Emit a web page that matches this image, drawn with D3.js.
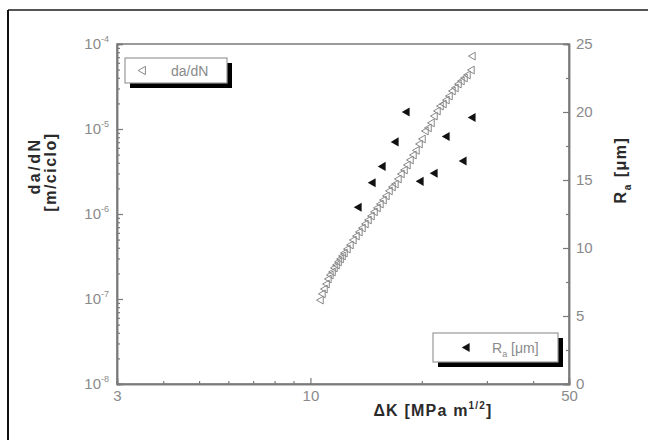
<!DOCTYPE html>
<html>
<head>
<meta charset="utf-8">
<script src="https://cdn.jsdelivr.net/npm/d3@7"></script>
<style>
  body { margin: 0; background: #fff; }
  text { font-family: "Liberation Sans", Arial, sans-serif; }
</style>
</head>
<body>
<div id="chart"></div>
<script>
const svgWidth = 648;
const svgHeight = 440;

const margin = { top: 44, right: 79, bottom: 56, left: 117 };
const width = svgWidth - margin.left - margin.right;
const height = svgHeight - margin.top - margin.bottom;

// da/dN series (open triangles)
const dkCrack = [10.68, 10.81, 10.95, 11.09, 11.22, 11.36, 11.51, 11.65, 11.80, 11.95,
    12.10, 12.25, 12.40, 12.63, 12.87, 13.11, 13.36, 13.61, 13.87, 14.13,
    14.40, 14.67, 14.95, 15.23, 15.51, 15.81, 16.10, 16.41, 16.72, 17.03,
    17.35, 17.68, 18.02, 18.35, 18.70, 19.05, 19.41, 19.78, 20.15, 20.53,
    20.92, 21.31, 21.71, 22.12, 22.54, 22.96, 23.39, 23.84, 24.28, 24.74,
    25.21, 25.68, 26.17, 26.66, 27.33, 27.50];
const dadn = [9.7e-8, 1.15e-7, 1.31e-7, 1.50e-7, 1.72e-7, 1.92e-7, 2.08e-7, 2.32e-7, 2.51e-7, 2.73e-7,
    2.96e-7, 3.21e-7, 3.48e-7, 3.87e-7, 4.32e-7, 4.94e-7, 5.51e-7, 6.14e-7, 6.84e-7, 7.63e-7,
    8.50e-7, 9.47e-7, 1.06e-6, 1.18e-6, 1.31e-6, 1.46e-6, 1.63e-6, 1.87e-6, 2.08e-6, 2.25e-6,
    2.58e-6, 2.96e-6, 3.29e-6, 3.77e-6, 4.32e-6, 4.94e-6, 5.60e-6, 6.66e-6, 7.63e-6, 9.47e-6,
    1.03e-5, 1.18e-5, 1.42e-5, 1.63e-5, 1.86e-5, 1.97e-5, 2.19e-5, 2.44e-5, 2.80e-5, 3.04e-5,
    3.38e-5, 3.67e-5, 3.98e-5, 4.32e-5, 4.94e-5, 7.2e-5];

// roughness series (filled triangles)
const dkRough = [13.53, 14.76, 15.71, 17.03, 18.24, 19.90, 21.71, 23.40, 26.0, 27.5];
const ra = [13.0, 14.8, 16.0, 17.8, 20.0, 14.9, 15.5, 18.2, 16.4, 19.6];

const xTicks = [3, 10, 50];
const xMinor = [4, 5, 6, 7, 8, 9, 20, 30, 40];
const yExp = [-8, -7, -6, -5, -4];
const raTicks = [0, 5, 10, 15, 20, 25];

const gray = "#7a7a7a";
const labelGray = "#8a8a8a";

const svg = d3.select("#chart").append("svg")
    .attr("width", svgWidth)
    .attr("height", svgHeight);

// outer frame (cropped)
svg.append("line").attr("x1", 8).attr("x2", 648).attr("y1", 10).attr("y2", 10)
    .attr("stroke", "#555").attr("stroke-width", 2);
svg.append("line").attr("x1", 8).attr("x2", 8).attr("y1", 10).attr("y2", 440)
    .attr("stroke", "#111").attr("stroke-width", 2);

const chart = svg.append("g")
    .attr("transform", `translate(${margin.left}, ${margin.top})`);

const x = d3.scaleLog().domain([3, 50]).range([0, width]);
const y = d3.scaleLog().domain([1e-8, 1e-4]).range([height, 0]);
const yr = d3.scaleLinear().domain([0, 25]).range([height, 0]);

// plot box
chart.append("rect").attr("width", width).attr("height", height)
    .attr("fill", "none").attr("stroke", gray).attr("stroke-width", 1.5);

// bottom axis
chart.append("g").attr("transform", `translate(0, ${height})`)
    .call(d3.axisBottom(x).tickValues(xTicks).tickSize(-6).tickPadding(6).tickFormat(d3.format("d")));
chart.append("g").attr("transform", `translate(0, ${height})`)
    .call(d3.axisBottom(x).tickValues(xMinor).tickSize(-3).tickFormat(""));

// left axis
const yMinorVals = [];
for (let e = -8; e < -4; e++) for (let m = 2; m <= 9; m++) yMinorVals.push(m * Math.pow(10, e));
chart.append("g")
    .call(d3.axisLeft(y).tickValues(yExp.map(e => Math.pow(10, e))).tickSize(-6).tickFormat(""));
chart.append("g").call(d3.axisLeft(y).tickValues(yMinorVals).tickSize(-3).tickFormat(""));

yExp.forEach(e => {
    const t = chart.append("text")
        .attr("x", -8).attr("y", y(Math.pow(10, e)) + 5)
        .attr("text-anchor", "end")
        .attr("font-size", 15).attr("fill", labelGray);
    t.append("tspan").text("10");
    t.append("tspan").attr("dy", -7).attr("font-size", 9).text(e);
});

// right axis
const yrMinor = d3.range(2.5, 25, 5);
chart.append("g").attr("transform", `translate(${width}, 0)`)
    .call(d3.axisRight(yr).tickValues(raTicks).tickSize(-6).tickPadding(7));
chart.append("g").attr("transform", `translate(${width}, 0)`)
    .call(d3.axisRight(yr).tickValues(yrMinor).tickSize(-3).tickFormat(""));

chart.selectAll(".domain").attr("stroke", gray).attr("stroke-width", 1.5);
chart.selectAll(".tick line").attr("stroke", gray).attr("stroke-width", 1.2);
chart.selectAll(".tick text").attr("fill", labelGray).attr("font-size", 15)
    .attr("font-family", "Liberation Sans, Arial, sans-serif");

// data: da/dN open left triangles
const tri = d3.symbol().type(d3.symbolTriangle).size(26);
chart.selectAll(".crack")
    .data(dkCrack.map((d, i) => [d, dadn[i]]))
    .enter().append("path")
    .attr("class", "crack")
    .attr("d", tri)
    .attr("transform", d => `translate(${x(d[0])}, ${y(d[1])}) rotate(-90)`)
    .attr("fill", "none")
    .attr("stroke", "#888")
    .attr("stroke-width", 1);

// data: Ra filled left triangles
chart.selectAll(".rough")
    .data(dkRough.map((d, i) => [d, ra[i]]))
    .enter().append("path")
    .attr("class", "rough")
    .attr("d", d3.symbol().type(d3.symbolTriangle).size(36))
    .attr("transform", d => `translate(${x(d[0])}, ${yr(d[1])}) rotate(-90)`)
    .attr("fill", "#111");

// legends
function legend(lx, ly, w, h, filled, label) {
    const g = svg.append("g").attr("transform", `translate(${lx}, ${ly})`);
    g.append("rect").attr("x", 5).attr("y", 5).attr("width", w).attr("height", h).attr("fill", "#000");
    g.append("rect").attr("width", w).attr("height", h)
        .attr("fill", "#fff").attr("stroke", "#999").attr("stroke-width", 1.2);
    g.append("path")
        .attr("d", d3.symbol().type(d3.symbolTriangle).size(filled ? 36 : 30))
        .attr("transform", `translate(${filled ? 34 : 18}, ${h / 2}) rotate(-90)`)
        .attr("fill", filled ? "#111" : "none")
        .attr("stroke", filled ? "none" : "#888");
    label(g.append("text").attr("y", h / 2 + 5).attr("font-size", 14).attr("fill", labelGray));
}
legend(125, 58, 102, 25, false, t => t.attr("x", 46).text("da/dN"));
legend(433, 333, 125, 29, true, t => {
    t.attr("x", 59);
    t.append("tspan").text("R");
    t.append("tspan").attr("dy", 4).attr("font-size", 9).text("a");
    t.append("tspan").attr("dy", -4).text(" [\u03bcm]");
});

// axis titles
const titleSize = 16;
svg.append("text")
    .attr("transform", "translate(40, 166) rotate(-90)")
    .attr("text-anchor", "middle").attr("font-size", titleSize).attr("font-weight", "bold")
    .attr("letter-spacing", 2.5).attr("fill", "#2a2a2a")
    .text("da/dN");
svg.append("text")
    .attr("transform", "translate(56, 172) rotate(-90)")
    .attr("text-anchor", "middle").attr("font-size", titleSize).attr("font-weight", "bold")
    .attr("letter-spacing", 1.5).attr("fill", "#2a2a2a")
    .text("[m/ciclo]");

const rt = svg.append("text")
    .attr("transform", "translate(626, 170) rotate(-90)")
    .attr("text-anchor", "middle").attr("font-size", titleSize).attr("font-weight", "bold")
    .attr("letter-spacing", 1.5).attr("fill", "#2a2a2a");
rt.append("tspan").text("R");
rt.append("tspan").attr("dy", 5).attr("font-size", 10).text("a");
rt.append("tspan").attr("dy", -5).text(" [\u03bcm]");

const xt = svg.append("text")
    .attr("x", 433).attr("y", 416)
    .attr("text-anchor", "middle").attr("font-size", titleSize).attr("font-weight", "bold")
    .attr("letter-spacing", 1.2).attr("fill", "#2a2a2a");
xt.append("tspan").text("\u0394K [MPa m");
xt.append("tspan").attr("dy", -7).attr("font-size", 10).text("1/2");
xt.append("tspan").attr("dy", 7).text("]");
</script>
</body>
</html>
